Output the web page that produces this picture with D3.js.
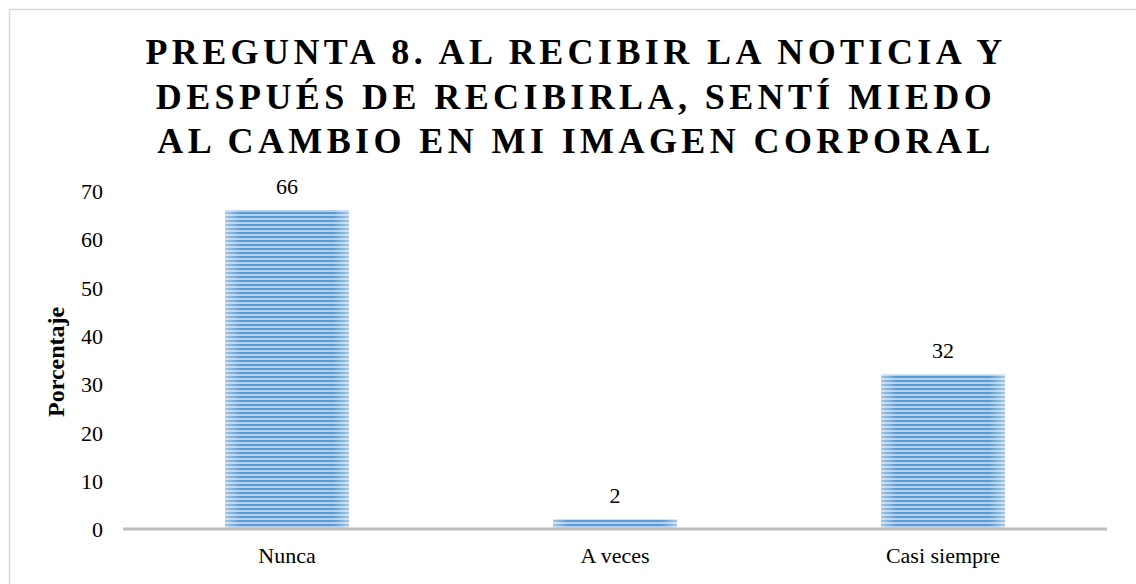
<!DOCTYPE html>
<html>
<head>
<meta charset="utf-8">
<script src="https://cdn.jsdelivr.net/npm/d3@7"></script>
<style>
  html, body { margin: 0; padding: 0; background: #fff; }
  svg { display: block; }
</style>
</head>
<body>
<svg id="chart" width="1136" height="584"></svg>
<script>
// Respuestas a la pregunta 8 (porcentaje)
const categories = ["Nunca", "A veces", "Casi siempre"];
const values = [66, 2, 32];
const yTicks = [0, 10, 20, 30, 40, 50, 60, 70];
const titleLines = [
  "PREGUNTA 8. AL RECIBIR LA NOTICIA Y",
  "DESPUÉS DE RECIBIRLA, SENTÍ MIEDO",
  "AL CAMBIO EN MI IMAGEN CORPORAL"
];
const yLabel = "Porcentaje";

const W = 1136, H = 584;
const svg = d3.select("#chart");
const font = "'Liberation Serif', 'Times New Roman', serif";

// Marco del gráfico
svg.append("rect")
  .attr("x", 9.5).attr("y", 9.5)
  .attr("width", W + 20).attr("height", H + 20)
  .attr("fill", "#fff")
  .attr("stroke", "#d9d9d9").attr("stroke-width", 1.5);

// Relleno rayado de las barras
const defs = svg.append("defs");
const pat = defs.append("pattern")
  .attr("id", "stripes")
  .attr("patternUnits", "userSpaceOnUse")
  .attr("width", 8).attr("height", 4);
pat.append("rect").attr("width", 8).attr("height", 4).attr("fill", "#b4d0ee");
pat.append("rect").attr("width", 8).attr("height", 2).attr("fill", "#5b9bd5");

const edge = defs.append("linearGradient").attr("id", "edge")
  .attr("x1", "0").attr("x2", "1").attr("y1", "0").attr("y2", "0");
edge.append("stop").attr("offset", "0").attr("stop-color", "#fff").attr("stop-opacity", 0.45);
edge.append("stop").attr("offset", "0.12").attr("stop-color", "#fff").attr("stop-opacity", 0);
edge.append("stop").attr("offset", "0.88").attr("stop-color", "#fff").attr("stop-opacity", 0);
edge.append("stop").attr("offset", "1").attr("stop-color", "#fff").attr("stop-opacity", 0.45);

const plot = { left: 123, right: 1107, top: 190.7, bottom: 529 };

const x = d3.scaleBand()
  .domain(categories)
  .range([plot.left, plot.right])
  .paddingInner(0.622)
  .paddingOuter(0.311);

const y = d3.scaleLinear()
  .domain([0, 70])
  .range([plot.bottom, plot.top]);

// Título
const title = svg.append("text")
  .attr("text-anchor", "middle")
  .attr("font-family", font)
  .attr("font-weight", "bold")
  .attr("font-size", 36)
  .attr("letter-spacing", 4.4)
  .attr("fill", "#000");
titleLines.forEach((t, i) => {
  title.append("tspan")
    .attr("x", 576)
    .attr("y", 64 + i * 44.5)
    .text(t);
});

// Barras
const bars = svg.append("g");
bars.selectAll("rect.bar")
  .data(values)
  .join("rect")
  .attr("class", "bar")
  .attr("x", (d, i) => x(categories[i]))
  .attr("y", d => y(d))
  .attr("width", x.bandwidth())
  .attr("height", d => y(0) - y(d))
  .attr("fill", "url(#stripes)");
bars.selectAll("rect.shade")
  .data(values)
  .join("rect")
  .attr("class", "shade")
  .attr("x", (d, i) => x(categories[i]))
  .attr("y", d => y(d))
  .attr("width", x.bandwidth())
  .attr("height", d => y(0) - y(d))
  .attr("fill", "url(#edge)");

// Etiquetas de valor
svg.append("g").selectAll("text")
  .data(values)
  .join("text")
  .attr("x", (d, i) => x(categories[i]) + x.bandwidth() / 2)
  .attr("y", d => y(d) - 16)
  .attr("text-anchor", "middle")
  .attr("font-family", font)
  .attr("font-size", 22)
  .attr("fill", "#000")
  .text(d => d);

// Eje Y
const yAxis = svg.append("g")
  .attr("transform", `translate(${plot.left},0)`)
  .call(d3.axisLeft(y).tickValues(yTicks).tickSize(0).tickPadding(20));
yAxis.select(".domain").remove();
yAxis.selectAll("text")
  .attr("font-family", font)
  .attr("font-size", 22)
  .attr("fill", "#000")
  .attr("dy", "0.35em");

// Eje X
const xAxis = svg.append("g")
  .attr("transform", `translate(0,${plot.bottom})`)
  .call(d3.axisBottom(x).tickSize(0).tickPadding(18));
xAxis.select(".domain")
  .attr("stroke", "#bfbfbf")
  .attr("stroke-width", 3)
  .attr("d", `M${plot.left},0H${plot.right}`);
xAxis.selectAll("text")
  .attr("font-family", font)
  .attr("font-size", 22)
  .attr("fill", "#000")
  .attr("dy", "0.71em");

// Título del eje Y
svg.append("text")
  .attr("transform", `translate(64,${(plot.top + plot.bottom) / 2 + 2}) rotate(-90)`)
  .attr("text-anchor", "middle")
  .attr("font-family", font)
  .attr("font-weight", "bold")
  .attr("font-size", 24)
  .attr("fill", "#000")
  .text(yLabel);
</script>
</body>
</html>
